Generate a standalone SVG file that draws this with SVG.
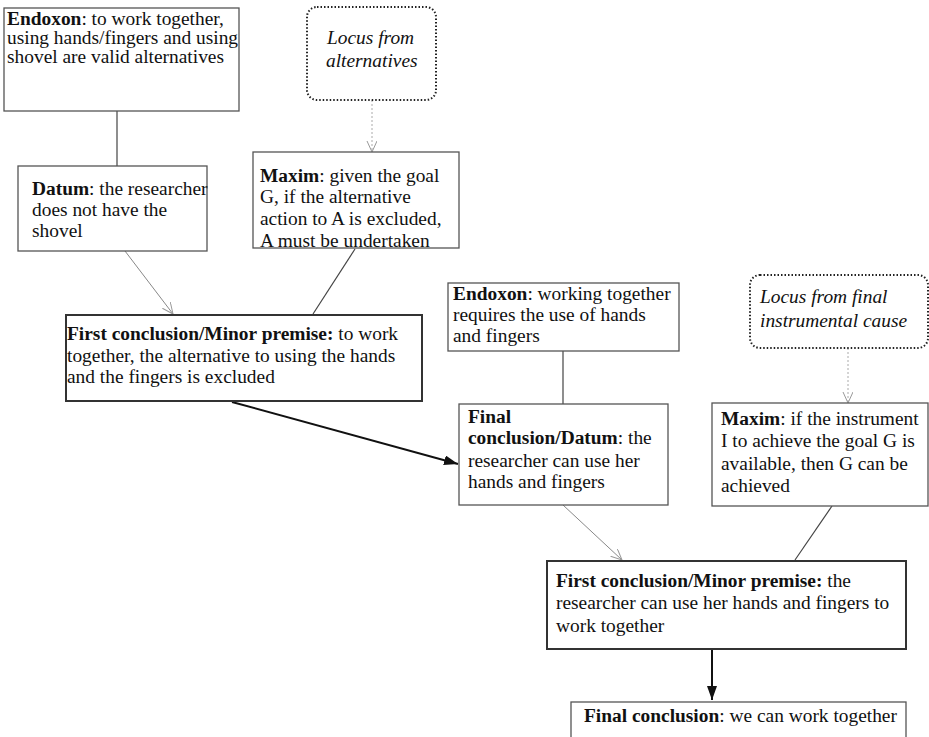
<svg xmlns="http://www.w3.org/2000/svg" width="929" height="737" viewBox="0 0 929 737">
<style>
text{font-family:"Liberation Serif","Times New Roman",serif;font-size:19.4px;fill:#111}
.b{font-weight:bold}
.it{font-style:italic}
.box{fill:#fff;stroke:#555;stroke-width:1.3}
.thick{fill:#fff;stroke:#333;stroke-width:2}
.locus{fill:#fff;stroke:#222;stroke-width:2;stroke-dasharray:1.5 2}
.ln{stroke:#444;stroke-width:1.2;fill:none}
.thin{stroke:#888;stroke-width:1;fill:none}
.dot{stroke:#aaa;stroke-width:1;stroke-dasharray:2 2;fill:none}
.bold{stroke:#111;stroke-width:2;fill:none}
</style>
<defs>
<marker id="open" markerWidth="12" markerHeight="12" refX="11" refY="5" orient="auto" markerUnits="userSpaceOnUse">
<path d="M0,0 L11,5 L0,10" fill="none" stroke="#999" stroke-width="1"/>
</marker>
<marker id="fill" markerWidth="16" markerHeight="12" refX="14" refY="5" orient="auto" markerUnits="userSpaceOnUse">
<path d="M0,0 L14,5 L0,10 Z" fill="#111"/>
</marker>
</defs>
<g id="connectors">
<line class="ln" x1="117" y1="111" x2="117" y2="166"/>
<line class="dot" x1="372" y1="100" x2="372" y2="152" marker-end="url(#open)"/>
<line class="thin" x1="125" y1="251" x2="173" y2="314" marker-end="url(#open)"/>
<line class="ln" x1="355" y1="249" x2="313" y2="314"/>
<line class="bold" x1="232" y1="402" x2="458" y2="464" marker-end="url(#fill)"/>
<line class="ln" x1="563" y1="351" x2="563" y2="404"/>
<line class="thin" x1="563" y1="505" x2="622" y2="560" marker-end="url(#open)"/>
<line class="dot" x1="848" y1="348" x2="848" y2="403" marker-end="url(#open)"/>
<line class="ln" x1="832" y1="506" x2="795" y2="560"/>
<line class="bold" x1="712" y1="650" x2="712" y2="700" marker-end="url(#fill)"/>
</g>
<g id="endoxon1">
<rect class="box" x="4" y="8" width="235" height="103"/>
<text x="7" y="25"><tspan class="b">Endoxon</tspan>: to work together,</text>
<text x="7" y="44">using hands/fingers and using</text>
<text x="7" y="63">shovel are valid alternatives</text>
</g>
<g id="locus1">
<rect class="locus" x="307" y="7" width="129" height="93" rx="10"/>
<text class="it" x="327" y="44">Locus from</text>
<text class="it" x="326" y="67">alternatives</text>
</g>
<g id="datum">
<rect class="box" x="18" y="166" width="189" height="85"/>
<text x="32" y="195"><tspan class="b">Datum</tspan>: the researcher</text>
<text x="32" y="216">does not have the</text>
<text x="32" y="237">shovel</text>
</g>
<g id="maxim1">
<rect class="box" x="253" y="152" width="206" height="96"/>
<text x="260" y="182"><tspan class="b">Maxim</tspan>: given the goal</text>
<text x="260" y="203">G, if the alternative</text>
<text x="260" y="225">action to A is excluded,</text>
<text x="260" y="247">A must be undertaken</text>
</g>
<g id="firstconclusion1">
<rect class="thick" x="66" y="315" width="356" height="86"/>
<text x="67" y="340"><tspan class="b">First conclusion/Minor premise:</tspan> to work</text>
<text x="67" y="362">together, the alternative to using the hands</text>
<text x="67" y="383">and the fingers is excluded</text>
</g>
<g id="endoxon2">
<rect class="box" x="448" y="283" width="231" height="68"/>
<text x="453" y="300"><tspan class="b">Endoxon</tspan>: working together</text>
<text x="453" y="321">requires the use of hands</text>
<text x="453" y="342">and fingers</text>
</g>
<g id="finalconclusiondatum">
<rect class="box" x="459" y="404" width="209" height="101"/>
<text class="b" x="468" y="423">Final</text>
<text x="468" y="444"><tspan class="b">conclusion/Datum</tspan>: the</text>
<text x="468" y="467">researcher can use her</text>
<text x="468" y="488">hands and fingers</text>
</g>
<g id="locus2">
<rect class="locus" x="750" y="275" width="178" height="73" rx="10"/>
<text class="it" x="760" y="303">Locus from final</text>
<text class="it" x="760" y="327">instrumental cause</text>
</g>
<g id="maxim2">
<rect class="box" x="712" y="403" width="216" height="103"/>
<text x="721" y="425"><tspan class="b">Maxim</tspan>: if the instrument</text>
<text x="721" y="447">I to achieve the goal G is</text>
<text x="721" y="470">available, then G can be</text>
<text x="721" y="492">achieved</text>
</g>
<g id="firstconclusion2">
<rect class="thick" x="547" y="561" width="359" height="88"/>
<text x="556" y="587"><tspan class="b">First conclusion/Minor premise:</tspan> the</text>
<text x="556" y="609">researcher can use her hands and fingers to</text>
<text x="556" y="632">work together</text>
</g>
<g id="finalconclusion">
<rect class="box" x="571" y="702" width="335" height="50"/>
<text x="584" y="722"><tspan class="b">Final conclusion</tspan>: we can work together</text>
</g>
</svg>
